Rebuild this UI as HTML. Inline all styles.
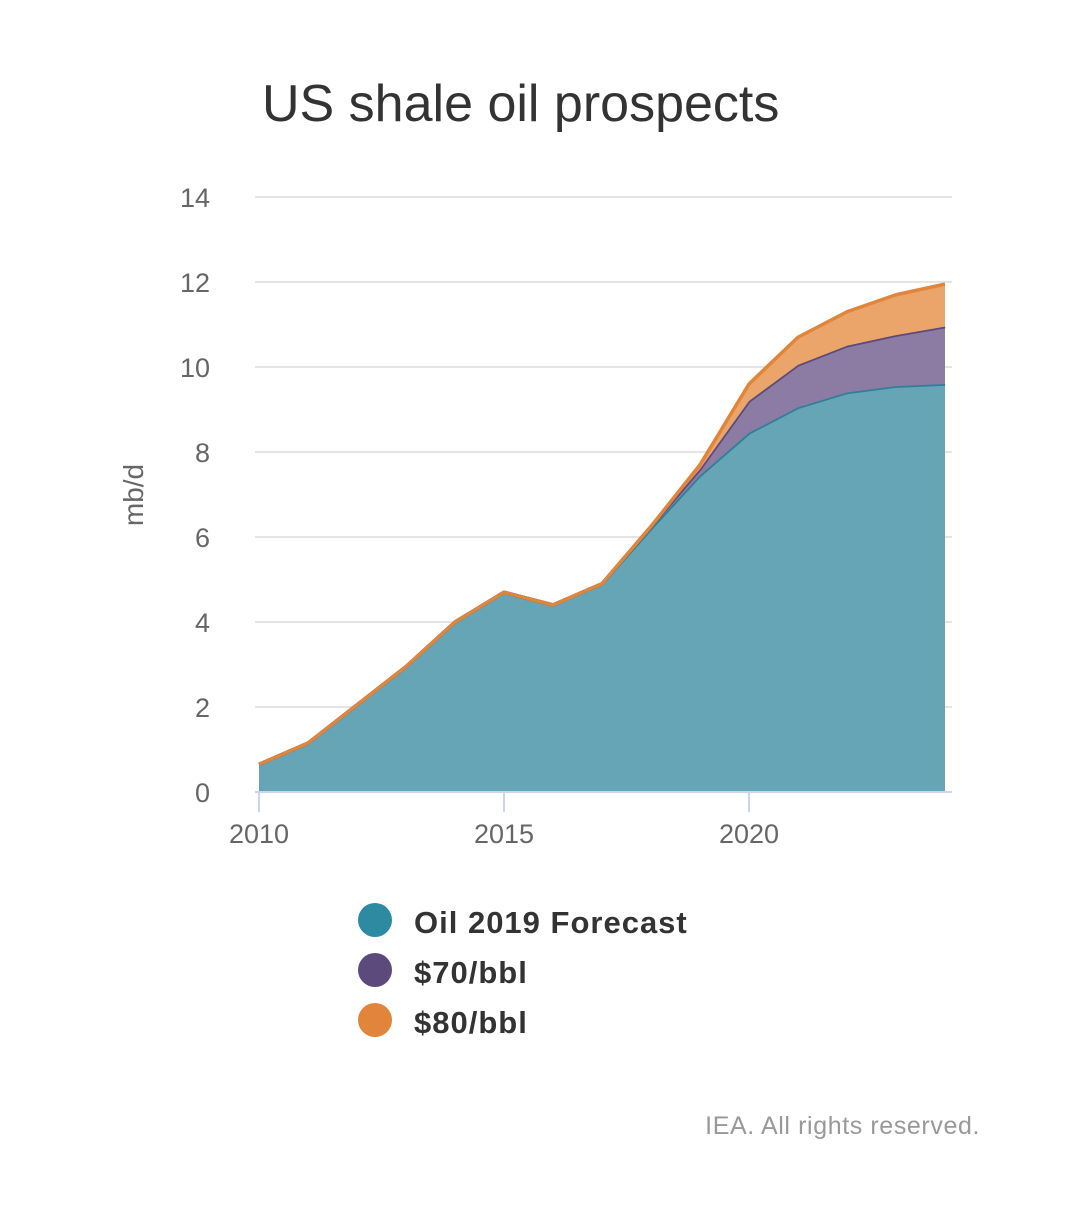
<!DOCTYPE html>
<html><head><meta charset="utf-8"><style>
body{margin:0;background:#fff;font-family:"Liberation Sans",sans-serif;}
</style></head><body>
<svg id="chart" width="1083" height="1200" xmlns="http://www.w3.org/2000/svg">
<text x="262" y="121" font-size="52" fill="#333">US shale oil prospects</text>
<text transform="translate(143,495) rotate(-90)" text-anchor="middle" font-size="28" fill="#666">mb/d</text>
<g id="grid"></g><g id="areas"></g><g id="axes"></g>
<g>
<g><circle cx="375" cy="920" r="17" fill="#2e8aa0"/><text x="414" y="933" font-size="31" font-weight="bold" letter-spacing="1" fill="#333">Oil 2019 Forecast</text></g>
<g><circle cx="375" cy="970" r="17" fill="#5c4a7c"/><text x="414" y="983" font-size="31" font-weight="bold" letter-spacing="1" fill="#333">$70/bbl</text></g>
<g><circle cx="375" cy="1020" r="17" fill="#e0853a"/><text x="414" y="1033" font-size="31" font-weight="bold" letter-spacing="1" fill="#333">$80/bbl</text></g>
</g>
<text x="980" y="1134" text-anchor="end" font-size="25" letter-spacing="0.6" fill="#999">IEA. All rights reserved.</text>
</svg>
<script>
const years=[2010,2011,2012,2013,2014,2015,2016,2017,2018,2019,2020,2021,2022,2023,2024];
const forecast=[0.65,1.15,2.05,2.95,4.0,4.7,4.4,4.9,6.2,7.45,8.45,9.05,9.4,9.55,9.6];
const bbl70=[0.65,1.15,2.05,2.95,4.0,4.7,4.4,4.9,6.25,7.6,9.2,10.05,10.5,10.75,10.95];
const bbl80=[0.65,1.15,2.05,2.95,4.0,4.7,4.4,4.9,6.25,7.7,9.6,10.7,11.3,11.7,11.95];
const yTicks=[0,2,4,6,8,10,12,14];
const xTicks=[2010,2015,2020];
const NS="http://www.w3.org/2000/svg";
const x=v=>259+(v-2010)*49;
const y=v=>792-v*42.5;
function mk(tag,attrs,parent){const e=document.createElementNS(NS,tag);for(const k in attrs)e.setAttribute(k,attrs[k]);parent.appendChild(e);return e;}
const grid=document.getElementById('grid'),areas=document.getElementById('areas'),axes=document.getElementById('axes');
yTicks.forEach(t=>{
  if(t>0){const l=mk('line',{x1:255,x2:952,y1:y(t),y2:y(t),stroke:'#e4e4e4','stroke-width':2},grid);
  
  }
  const tx=mk('text',{x:210,y:y(t)+10,'text-anchor':'end','font-size':27,fill:'#666'},axes);tx.textContent=t;
  
  
});
const ax=mk('line',{x1:255,x2:952,y1:792,y2:792,stroke:'#ccd6eb','stroke-width':2},axes);


xTicks.forEach(t=>{
  mk('line',{x1:x(t),x2:x(t),y1:792,y2:812,stroke:'#ccd6eb','stroke-width':2},axes);
  const tx=mk('text',{x:x(t),y:843,'text-anchor':'middle','font-size':27,fill:'#666'},axes);tx.textContent=t;
  
  
});
const line=a=>a.map((v,i)=>x(years[i])+','+y(v));
function band(top,bot,fill,stroke,name){
  const pts=line(top);const b=bot?line(bot).reverse():[x(years[years.length-1])+','+y(0),x(years[0])+','+y(0)];
  const p=mk('polygon',{points:pts.concat(b).join(' '),fill:fill},areas);
  
  
  const l=mk('polyline',{points:pts.join(' '),fill:'none',stroke:stroke,'stroke-width':3.5,'stroke-linejoin':'round'},areas);
  
  
}
band(forecast,null,'#65a5b5','#2e7f99','forecast');
band(bbl70,forecast,'#8c7ca3','#5c4a7c','bbl70');
band(bbl80,bbl70,'#eba56b','#e0853a','bbl80');
</script>
</body></html>
